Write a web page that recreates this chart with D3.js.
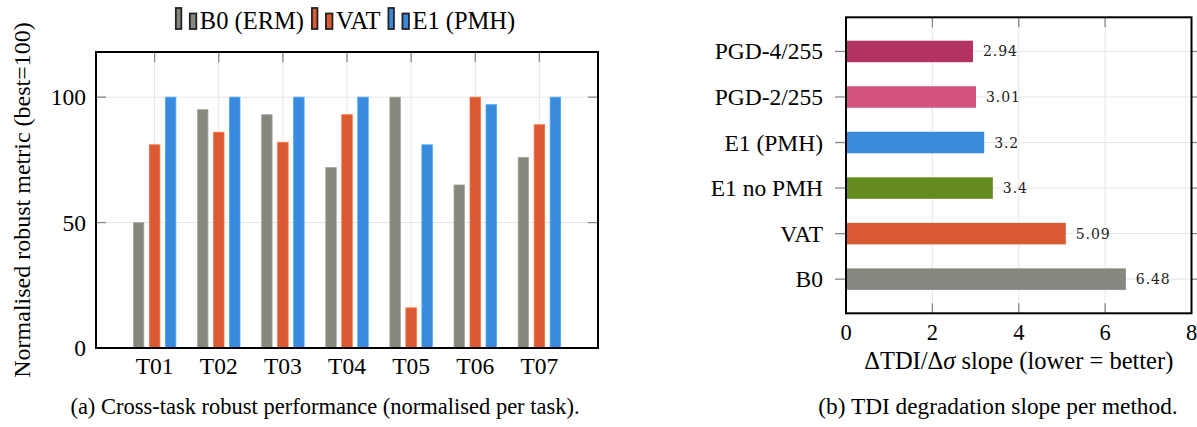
<!DOCTYPE html>
<html>
<head>
<meta charset="utf-8">
<style>
    body { margin: 0; background: #fff; }
    svg { display: block; font-family: "Liberation Serif", "Times New Roman", serif; }
    .grid { stroke: #e6e6e6; stroke-width: 1px; }
    .tick-mark { stroke: #888; stroke-width: 1.3px; }
    .frame { fill: none; stroke: #000; stroke-width: 2px; }
</style>
</head>
<body>
<svg width="1197" height="427"></svg>

<script src="https://d3js.org/d3.v7.min.js"></script>
<script>
    // ---- left chart data
    let tasks = ["T01", "T02", "T03", "T04", "T05", "T06", "T07"];
    let seriesNames = ["B0 (ERM)", "VAT", "E1 (PMH)"];
    let b0Values = [50, 95, 93, 72, 100, 65, 76];
    let vatValues = [81, 86, 82, 93, 16, 100, 89];
    let e1Values = [100, 100, 100, 100, 81, 97, 100];
    let yTicks = [0, 50, 100];

    // ---- right chart data
    let methods = ["PGD-4/255", "PGD-2/255", "E1 (PMH)", "E1 no PMH", "VAT", "B0"];
    let slopes = [2.94, 3.01, 3.2, 3.4, 5.09, 6.48];
    let slopeTicks = [0, 2, 4, 6, 8];

    let gray = "#878780", orange = "#d95a33", blue = "#398add";
    let seriesColors = [gray, orange, blue];
    let methodColors = ["#b33363", "#d4527e", blue, "#658a1e", orange, gray];

    let svg = d3.select("svg");

    // =============== (a) grouped bars ===============
    let a = { left: 96, right: 598, top: 52, bottom: 348 };

    let x = d3.scaleLinear()
        .domain([-0.914, tasks.length - 1 + 0.914])
        .range([a.left, a.right]);

    let y = d3.scaleLinear()
        .domain([0, 118])
        .range([a.bottom, a.top]);

    let gA = svg.append("g");

    // grid
    gA.selectAll(".vgrid").data(tasks).join("line")
        .attr("class", "grid")
        .attr("x1", (d, i) => x(i)).attr("x2", (d, i) => x(i))
        .attr("y1", a.top).attr("y2", a.bottom);
    gA.selectAll(".hgrid").data(yTicks.filter(d => d > 0)).join("line")
        .attr("class", "grid")
        .attr("x1", a.left).attr("x2", a.right)
        .attr("y1", d => y(d)).attr("y2", d => y(d));

    // ticks (inward)
    tasks.forEach((t, i) => {
        gA.append("line").attr("class", "tick-mark")
            .attr("x1", x(i)).attr("x2", x(i))
            .attr("y1", a.top).attr("y2", a.top + 10);
    });
    yTicks.forEach(v => {
        gA.append("line").attr("class", "tick-mark")
            .attr("x1", a.left).attr("x2", a.left + 10)
            .attr("y1", y(v)).attr("y2", y(v));
        gA.append("line").attr("class", "tick-mark")
            .attr("x1", a.right - 10).attr("x2", a.right)
            .attr("y1", y(v)).attr("y2", y(v));
    });

    // bars
    let allSeries = [b0Values, vatValues, e1Values];
    let barW = 10.5, offset = 16;
    allSeries.forEach((vals, s) => {
        gA.append("g").selectAll("rect").data(vals).join("rect")
            .attr("x", (d, i) => x(i) + (s - 1) * offset - barW / 2)
            .attr("width", barW)
            .attr("y", d => y(d))
            .attr("height", d => y(0) - y(d))
            .style("fill", seriesColors[s])
            .style("stroke", d3.color(seriesColors[s]).brighter(0.6))
            .style("stroke-width", "0.8px");
    });

    gA.append("rect").attr("class", "frame")
        .attr("x", a.left).attr("y", a.top)
        .attr("width", a.right - a.left).attr("height", a.bottom - a.top);

    // labels
    gA.selectAll(".xl").data(tasks).join("text")
        .attr("x", (d, i) => x(i)).attr("y", 374)
        .attr("text-anchor", "middle")
        .style("font-size", "23.5px")
        .text(d => d);
    gA.selectAll(".yl").data(yTicks).join("text")
        .attr("x", 86).attr("y", d => y(d) + 8)
        .attr("text-anchor", "end")
        .style("font-size", "23.5px")
        .text(d => d);

    gA.append("text")
        .attr("transform", "translate(30,200) rotate(-90)")
        .attr("text-anchor", "middle")
        .style("font-size", "24px")
        .text("Normalised robust metric (best=100)");

    // legend
    let legend = gA.append("g");
    let lx = 0;
    seriesNames.forEach((name, s) => {
        let item = legend.append("g").attr("transform", `translate(${lx},0)`);
        item.append("rect").attr("x", 1).attr("y", 8).attr("width", 5.5).attr("height", 21)
            .style("fill", seriesColors[s]).style("stroke", "#222").style("stroke-width", 1.8);
        item.append("rect").attr("x", 15).attr("y", 13.5).attr("width", 6.5).attr("height", 15.5)
            .style("fill", seriesColors[s]).style("stroke", "#222").style("stroke-width", 1.8);
        let t = item.append("text").attr("x", 25).attr("y", 28.5)
            .style("font-size", "24.5px").text(name);
        lx += 25 + t.node().getComputedTextLength() + 7;
    });
    legend.attr("transform", `translate(${345 - (lx - 7) / 2},0)`);

    gA.append("text")
        .attr("x", 325).attr("y", 414)
        .attr("text-anchor", "middle")
        .style("font-size", "22.5px")
        .text("(a) Cross-task robust performance (normalised per task).");

    // =============== (b) horizontal bars ===============
    let b = { left: 846, right: 1191.5, top: 17.3, bottom: 313.3 };

    let xs = d3.scaleLinear().domain([0, 8]).range([b.left, b.right]);
    let ys = d3.scaleLinear().domain([-0.75, methods.length - 1 + 0.75]).range([b.top, b.bottom]);

    let gB = svg.append("g");

    gB.selectAll(".vg").data(slopeTicks.slice(1, -1)).join("line")
        .attr("class", "grid")
        .attr("x1", d => xs(d)).attr("x2", d => xs(d))
        .attr("y1", b.top).attr("y2", b.bottom);
    gB.selectAll(".hg").data(methods).join("line")
        .attr("class", "grid")
        .attr("x1", b.left).attr("x2", b.right)
        .attr("y1", (d, i) => ys(i)).attr("y2", (d, i) => ys(i));

    slopeTicks.slice(1, -1).forEach(v => {
        gB.append("line").attr("class", "tick-mark")
            .attr("x1", xs(v)).attr("x2", xs(v))
            .attr("y1", b.bottom - 10).attr("y2", b.bottom);
        gB.append("line").attr("class", "tick-mark")
            .attr("x1", xs(v)).attr("x2", xs(v))
            .attr("y1", b.top).attr("y2", b.top + 10);
    });
    methods.forEach((m, i) => {
        gB.append("line").attr("class", "tick-mark")
            .attr("x1", b.left - 11).attr("x2", b.left)
            .attr("y1", ys(i)).attr("y2", ys(i));
        gB.append("line").attr("class", "tick-mark")
            .attr("x1", b.right).attr("x2", b.right + 11)
            .attr("y1", ys(i)).attr("y2", ys(i));
    });

    let barH = 21.5;
    gB.selectAll(".bar").data(slopes).join("rect")
        .attr("x", xs(0))
        .attr("y", (d, i) => ys(i) - barH / 2)
        .attr("width", d => xs(d) - xs(0))
        .attr("height", barH)
        .style("fill", (d, i) => methodColors[i]);

    gB.selectAll(".val").data(slopes).join("text")
        .attr("x", d => xs(d) + 10)
        .attr("y", (d, i) => ys(i) + 5)
        .style("font-family", "'DejaVu Serif', serif")
        .style("font-size", "14px")
        .style("letter-spacing", "0.9px")
        .style("fill", "#222")
        .text(d => d);

    gB.append("rect").attr("class", "frame")
        .attr("x", b.left).attr("y", b.top)
        .attr("width", b.right - b.left).attr("height", b.bottom - b.top);

    gB.selectAll(".ml").data(methods).join("text")
        .attr("x", 823).attr("y", (d, i) => ys(i) + 8)
        .attr("text-anchor", "end")
        .style("font-size", "23.5px")
        .text(d => d);

    gB.selectAll(".xt").data(slopeTicks).join("text")
        .attr("x", d => xs(d)).attr("y", 340)
        .attr("text-anchor", "middle")
        .style("font-size", "22.5px")
        .text(d => d);

    let xl = gB.append("text")
        .attr("x", (b.left + b.right) / 2).attr("y", 369)
        .attr("text-anchor", "middle")
        .style("font-size", "24.5px");
    xl.append("tspan").text("ΔTDI/Δ");
    xl.append("tspan").style("font-style", "italic").text("σ");
    xl.append("tspan").text(" slope (lower = better)");

    gB.append("text")
        .attr("x", 998).attr("y", 414)
        .attr("text-anchor", "middle")
        .style("font-size", "23.3px")
        .text("(b) TDI degradation slope per method.");
</script>
</body>
</html>
